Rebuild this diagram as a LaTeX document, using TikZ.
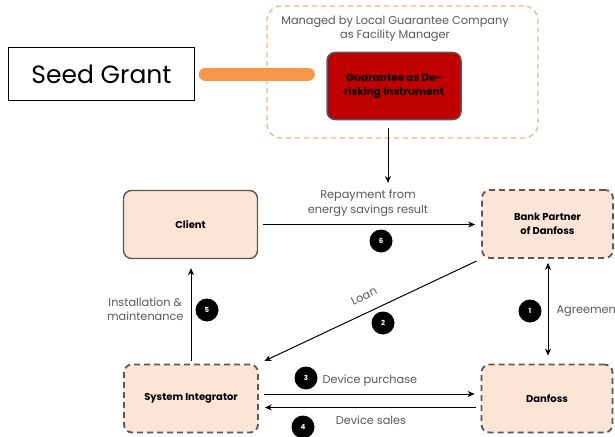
\documentclass[tikz,border=0pt]{standalone}
\usepackage{fontspec}
\setmainfont{Poppins}
\usetikzlibrary{calc}
\usetikzlibrary{arrows.meta}

\definecolor{peach}{HTML}{FBE5D6}
\definecolor{boxgray}{HTML}{595959}
\definecolor{textgray}{HTML}{595959}
\definecolor{guarred}{HTML}{C00000}
\definecolor{seedorange}{HTML}{F79646}
\definecolor{frameorange}{HTML}{F4B183}

\begin{document}
\begin{tikzpicture}[x=1pt,y=-1pt,
    party/.style={rounded corners=8pt,draw=boxgray,line width=1.8pt,fill=peach,
        minimum width=134pt,minimum height=68pt,align=center,
        font=\bfseries\fontsize{10}{14}\selectfont},
    partydash/.style={party,dash pattern=on 6pt off 4pt},
    badge/.style={circle,fill=black,text=white,inner sep=0pt,minimum size=23pt,
        font=\bfseries\fontsize{7}{7}\selectfont},
    flow/.style={-{Stealth[length=7pt,width=6pt]},line width=1pt,shorten <=5pt,shorten >=6pt},
    note/.style={text=textgray,align=center,font=\fontsize{11.3}{14.5}\selectfont}]
    \clip (0,0) rectangle (615,436);% page size of the reference

    % facility manager
    \node [draw=frameorange,line width=1.3pt,dash pattern=on 5pt off 4pt,rounded corners=14pt,
        minimum width=271pt,minimum height=132pt] (frame) at (402.5,72) {};
    \node [note] (manager) at (395,29) {Managed by Local Guarantee Company\\as Facility Manager};
    \node [draw=boxgray,line width=1.5pt,fill=guarred,rounded corners=8pt,minimum width=134pt,
        minimum height=67pt,align=center,font=\bfseries\fontsize{10.5}{14}\selectfont] (guar) at (394,86)
        {Guarantee as De-\\risking Instrument};
    \node [draw,line width=1.5pt,minimum width=186pt,minimum height=53pt,
        font=\fontsize{25}{27}\selectfont] (seed) at (101.5,74) {Seed Grant};
    \draw [seedorange,line width=13pt,line cap=round] ($(seed.east)+(10,0)$) -- ($(seed.east -| guar.west)+(-18,0)$);
    \coordinate (drop) at (388,183);
    \draw [flow,shorten <=8pt,shorten >=0pt] (guar.south -| drop) -- (drop);

    % the four parties
    \node [party,line width=1.4pt] (client) at (190.5,224.5) {Client};
    \node [partydash,minimum width=131pt] (bank) at (547.5,224) {Bank Partner\\of Danfoss};
    \node [partydash] (si) at (191,398.5) {System Integrator};
    \node [partydash,minimum width=131pt] (danfoss) at (547,398.5) {Danfoss};

    % flows
    \draw [{Stealth[length=7pt,width=6pt]}-{Stealth[length=7pt,width=6pt]},line width=1pt,
        shorten <=4pt,shorten >=8pt] (bank.south -| 548,0) -- (danfoss.north -| 548,0);
    \draw [flow] (bank.south west) -- (si.north east);
    \draw [flow] ([yshift=4.5pt]si.east) -- ([yshift=4.5pt]si.east -| danfoss.west);
    \draw [flow] ([yshift=-9pt]danfoss.west) -- ([yshift=-9pt]danfoss.west -| si.east);
    \draw [flow,shorten <=3pt,shorten >=9pt] (si.north) -- (si.north |- client.south);
    \draw [flow] (client.east) -- (client.east -| bank.west);

    % labels
    \node [note] (repay) at (368,203) {Repayment from\\energy savings result};
    \node [note,rotate=25] (loan) at (364,296) {Loan};
    \node [note,anchor=west] (agree) at (553,311) {Agreement};
    \node [note,anchor=east] (install) at (187,309) {Installation \&\\maintenance};
    \node [note,anchor=west] (purchase) at (319,381) {Device purchase};
    \node [note] (sales) at (371,420) {Device sales};

    % steps
    \node [badge] (b1) at (530,311) {1};
    \node [badge] (b2) at (383,323) {2};
    \node [badge] (b3) at (306,378) {3};
    \node [badge] (b4) at (303,427) {4};
    \node [badge] (b5) at (207,310) {5};
    \node [badge] (b6) at (381,241) {6};
\end{tikzpicture}
\end{document}
